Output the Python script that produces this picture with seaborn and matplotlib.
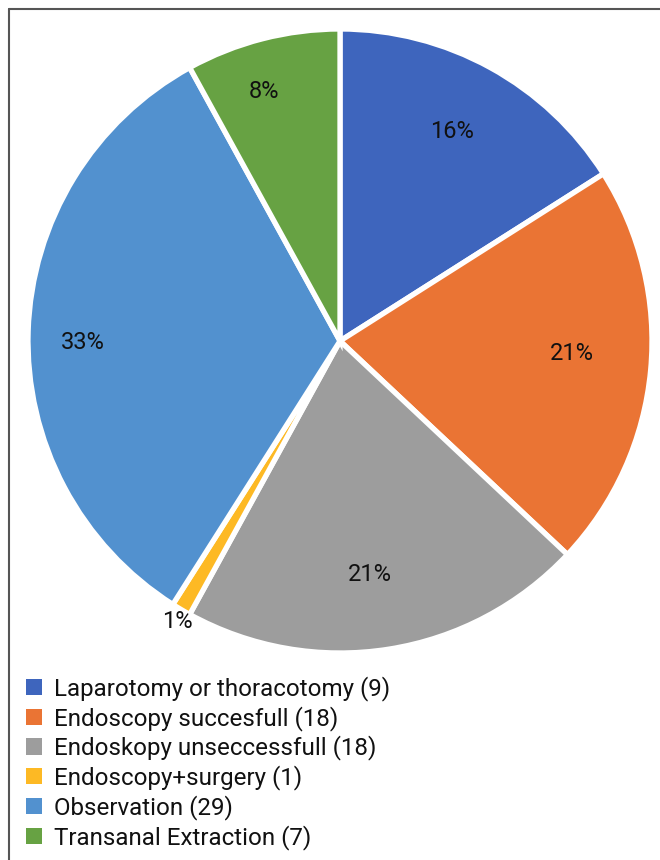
import numpy as np
import matplotlib
matplotlib.use('Agg')
import matplotlib.pyplot as plt
import seaborn as sns
from matplotlib.lines import Line2D

# Data
categories = ['Laparotomy or thoracotomy', 'Endoscopy succesfull', 'Endoskopy unseccessfull',
              'Endoscopy+surgery', 'Observation', 'Transanal Extraction']
counts = [9, 18, 18, 1, 29, 7]
shares = [16, 21, 21, 1, 33, 8]
colors = ['#3E65BD', '#EA7434', '#9D9D9D', '#FDB924', '#5291CF', '#67A243']
# label placement (radius fraction, angle nudge in degrees)
label_dist = [0.763, 0.745, 0.756, 1.041, 0.824, 0.837]
label_nudge = [0.7, 2.4, -1.7, 0.5, 2.2, 2.5]

sns.set_theme(style='white')
plt.rcParams['font.family'] = ['Roboto', 'DejaVu Sans']

fig = plt.figure(figsize=(6.6, 8.6), dpi=100)
W, H = 660, 860
cx, cy, r = 340, 341, 312
ax = fig.add_axes([(cx - r) / W, (H - cy - r) / H, 2 * r / W, 2 * r / H])

palette = sns.color_palette(colors)
wedges, texts, autotexts = ax.pie(shares, colors=palette, startangle=90, counterclock=False,
                                  radius=1, autopct='%d%%', pctdistance=0.78,
                                  wedgeprops=dict(edgecolor='white', linewidth=3.8),
                                  textprops=dict(fontsize=17, color='#111111'))

# move the percentage labels to the per-slice position
for w, t, d, nd in zip(wedges, autotexts, label_dist, label_nudge):
    ang = np.deg2rad((w.theta1 + w.theta2) / 2 + nd)
    t.set_position((d * np.cos(ang), d * np.sin(ang)))
    t.set_va('center')
    t.set_ha('center')

ax.set_xlim(-1, 1)
ax.set_ylim(-1, 1)
ax.axis('off')

labels = [f'{c} ({n})' for c, n in zip(categories, counts)]
leg = fig.legend(wedges, labels, loc='upper left', bbox_to_anchor=(26 / W, 1 - 676 / H),
                 frameon=False, fontsize=17.4, handlelength=0.66, handleheight=0.66,
                 handletextpad=0.5, labelspacing=0.2, borderpad=0, borderaxespad=0,
                 labelcolor='#111111')
for h in leg.legend_handles:
    h.set_linewidth(0)

# thin frame on top and left
fig.add_artist(Line2D([9 / W, 1], [1 - 9 / H, 1 - 9 / H], color='#555555', lw=1.5))
fig.add_artist(Line2D([9 / W, 9 / W], [0, 1 - 9 / H], color='#555555', lw=1.5))

fig.savefig('out.png', dpi=100, facecolor='white')
